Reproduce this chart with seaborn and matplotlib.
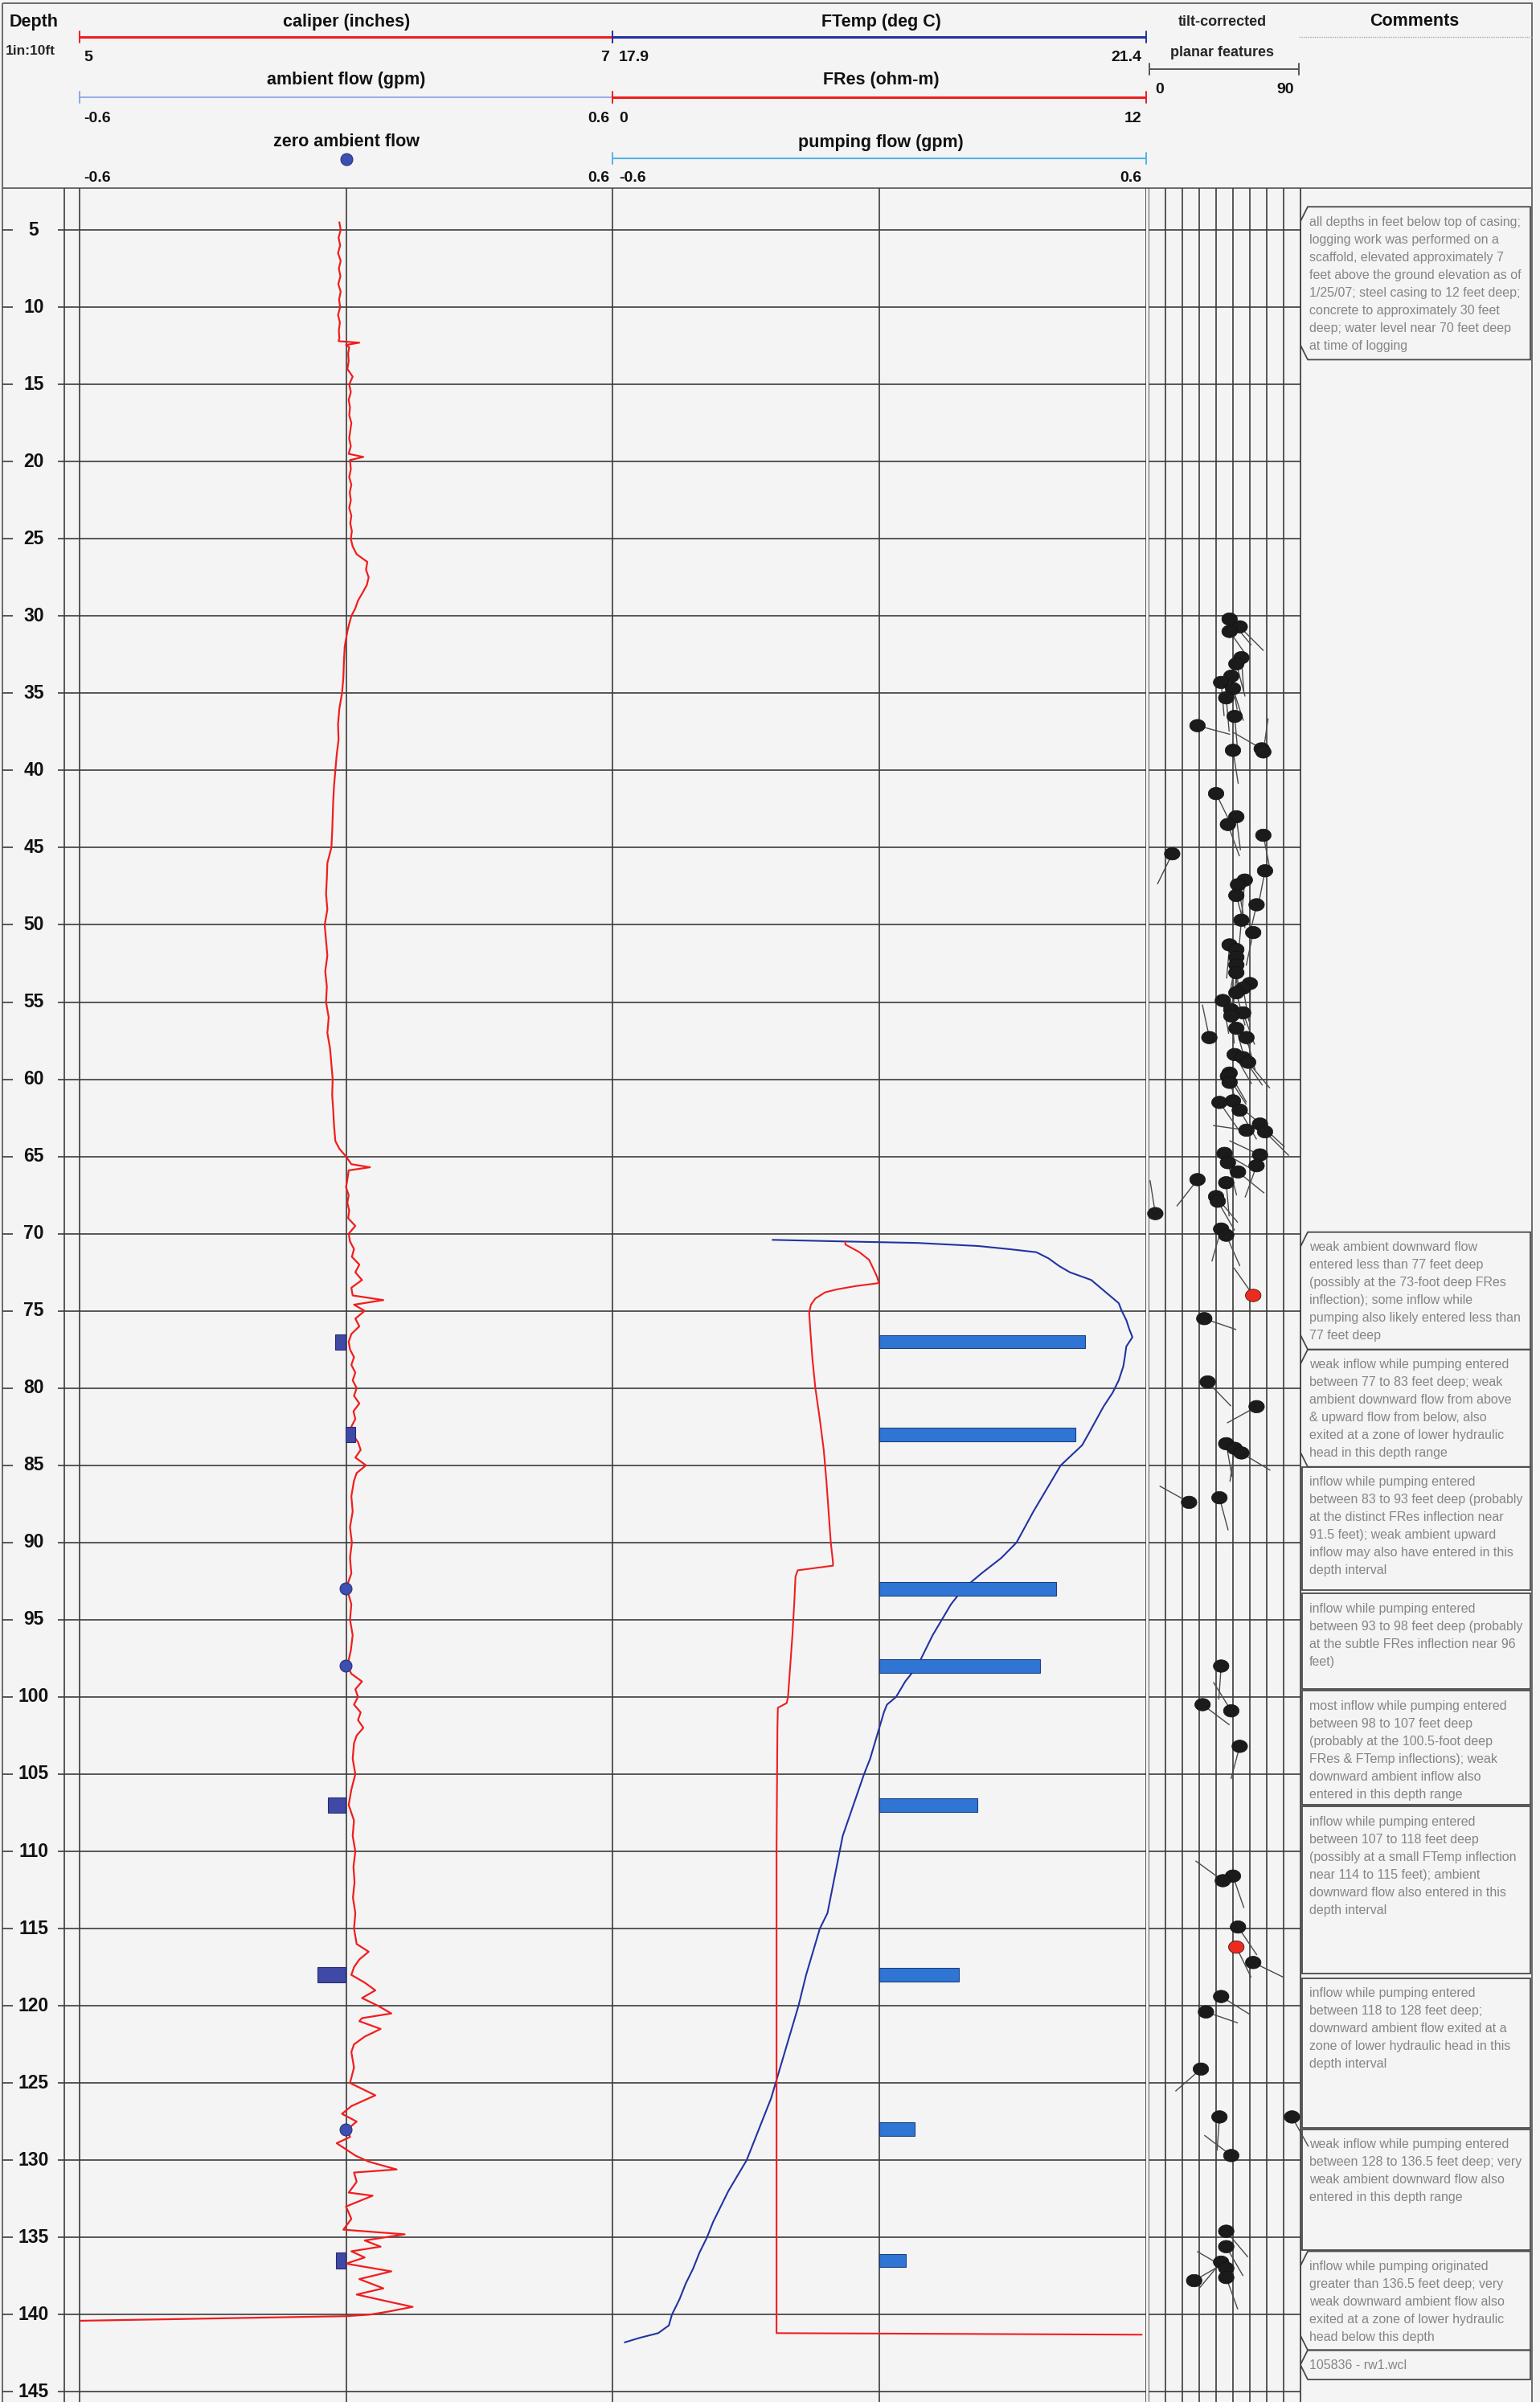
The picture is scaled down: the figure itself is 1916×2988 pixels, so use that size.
import numpy as np
import matplotlib
matplotlib.use("Agg")
import matplotlib.pyplot as plt
from matplotlib import font_manager
from matplotlib.patches import Polygon
from matplotlib.path import Path
from matplotlib.collections import LineCollection
import seaborn as sns

# ==========================================
# Data read off the log

# caliper (inches) vs depth (ft)
cal_depth = [4.5, 5, 5.5, 6, 6.5, 7, 7.5, 8, 8.5, 9, 9.5, 10, 10.5, 11, 11.5, 12, 12.2, 12.3, 12.45, 12.6,
             13, 13.5, 14, 14.5, 15, 15.5, 16, 16.5, 17, 17.5, 18, 18.5, 19, 19.5, 19.7, 19.9, 20.5, 21, 21.5,
             22, 22.5, 23, 23.5, 24, 24.5, 25, 25.5, 26, 26.5, 27, 27.5, 28, 28.5, 29, 29.5, 30, 30.5, 31,
             31.5, 32, 33, 34, 35, 36, 37, 38, 39, 40, 41, 42, 43, 44, 45, 46, 47, 48, 49, 50, 51, 52, 53,
             54, 55, 56, 57, 58, 59, 60, 61, 62, 63, 64, 64.5, 65, 65.5, 65.7, 65.9, 66.5, 67, 67.5, 68,
             68.5, 69, 69.5, 70, 70.5, 71, 71.5, 72, 72.5, 73, 73.5, 74, 74.3, 74.6, 75, 75.5, 76, 76.5, 77,
             77.5, 78, 78.5, 79, 79.5, 80, 80.5, 81, 81.5, 82, 82.5, 83, 83.5, 84, 84.5, 85, 85.5, 86, 87,
             88, 89, 90, 91, 92, 93, 93.5, 94, 95, 96, 97, 98, 98.5, 99, 99.5, 100, 100.5, 101, 101.5, 102,
             102.5, 103, 104, 105, 106, 107, 107.5, 108, 109, 110, 111, 112, 113, 114, 115, 116, 116.5, 117,
             117.5, 118, 118.5, 119, 119.5, 120, 120.5, 120.8, 121, 121.5, 122, 122.5, 123, 124, 125, 125.8,
             126.5, 127, 127.5, 128, 128.5, 128.9, 129.7, 130.1, 130.6, 130.8, 131.4, 132.1, 132.3, 133,
             133.8, 134.5, 134.8, 135.2, 135.6, 135.9, 136.3, 136.7, 137.2, 137.7, 138.3, 138.7, 139.2,
             139.5, 139.8, 140.0, 140.1, 140.4]
cal_in = [5.975, 5.98, 5.972, 5.978, 5.97, 5.98, 5.973, 5.979, 5.971, 5.98, 5.974, 5.978, 5.97, 5.977, 5.973,
          5.975, 5.972, 6.05, 6.0, 6.012, 6.008, 6.01, 6.005, 6.025, 6.012, 6.018, 6.01, 6.015, 6.012, 6.02,
          6.016, 6.012, 6.018, 6.01, 6.065, 6.015, 6.018, 6.012, 6.02, 6.014, 6.018, 6.012, 6.02, 6.016,
          6.022, 6.018, 6.025, 6.04, 6.08, 6.075, 6.085, 6.078, 6.062, 6.045, 6.035, 6.02, 6.012, 6.005,
          6.0, 5.995, 5.992, 5.99, 5.985, 5.975, 5.97, 5.972, 5.965, 5.96, 5.955, 5.952, 5.95, 5.948, 5.945,
          5.93, 5.928, 5.925, 5.93, 5.92, 5.925, 5.93, 5.922, 5.928, 5.925, 5.935, 5.93, 5.94, 5.945, 5.95,
          5.948, 5.952, 5.955, 5.96, 5.975, 6.0, 6.02, 6.09, 6.01, 6.005, 6.0, 6.01, 6.005, 6.012, 6.008,
          6.035, 6.01, 6.015, 6.03, 6.022, 6.05, 6.035, 6.06, 6.02, 6.025, 6.14, 6.03, 6.07, 6.035, 6.05,
          6.02, 6.01, 6.015, 6.03, 6.02, 6.035, 6.025, 6.04, 6.03, 6.05, 6.028, 6.035, 6.02, 6.025, 6.045,
          6.055, 6.035, 6.075, 6.04, 6.03, 6.02, 6.025, 6.015, 6.022, 6.015, 6.02, 6.0, 6.012, 6.02, 6.015,
          6.025, 6.018, 6.005, 6.02, 6.06, 6.035, 6.045, 6.03, 6.055, 6.045, 6.065, 6.04, 6.03, 6.025,
          6.035, 6.02, 6.01, 6.02, 6.03, 6.025, 6.035, 6.028, 6.032, 6.026, 6.035, 6.03, 6.04, 6.085, 6.05,
          6.03, 6.02, 6.07, 6.11, 6.06, 6.12, 6.17, 6.06, 6.05, 6.13, 6.07, 6.03, 6.02, 6.03, 6.015, 6.11,
          6.02, 5.985, 6.04, 6.005, 6.015, 5.965, 6.035, 6.086, 6.19, 6.03, 6.04, 6.01, 6.10, 6.0, 6.02,
          5.99, 6.22, 6.07, 6.13, 6.02, 6.07, 6.0, 6.17, 6.05, 6.14, 6.04, 6.17, 6.25, 6.16, 6.09, 6.0, 5.0]

# FTemp (deg C) vs depth
temp_depth = [70.4, 70.5, 70.6, 70.8, 71.0, 71.2, 71.6, 72.1, 72.5, 73.0, 73.5, 74.0, 74.5, 75.0, 75.6, 76.2,
              76.7, 77.3, 78.0, 78.6, 79.5, 80.3, 81.2, 82.1, 83.0, 83.7, 85.0, 86.5, 88.0, 90.0, 91.0, 92.0,
              93.0, 94.0, 95.0, 96.0, 97.0, 98.0, 99.0, 100.0, 100.5, 101.0, 102.0, 103.0, 104.0, 105.0,
              107.0, 109.0, 111.0, 113.0, 114.0, 115.0, 116.0, 118.0, 120.0, 122.0, 124.0, 126.0, 128.0,
              130.0, 132.0, 134.0, 135.0, 136.0, 137.0, 138.0, 139.0, 140.0, 140.7, 141.2, 141.5, 141.8]
temp_c = [18.95, 19.4, 19.9, 20.3, 20.5, 20.68, 20.76, 20.83, 20.9, 21.04, 21.1, 21.16, 21.22, 21.24, 21.27,
          21.29, 21.31, 21.27, 21.26, 21.25, 21.22, 21.18, 21.12, 21.07, 21.02, 20.98, 20.84, 20.75, 20.66,
          20.55, 20.45, 20.32, 20.2, 20.12, 20.06, 20.0, 19.95, 19.9, 19.82, 19.76, 19.7, 19.68, 19.65,
          19.62, 19.59, 19.55, 19.48, 19.41, 19.37, 19.33, 19.31, 19.26, 19.23, 19.17, 19.12, 19.06, 19.0,
          18.94, 18.86, 18.78, 18.66, 18.56, 18.52, 18.47, 18.43, 18.38, 18.34, 18.29, 18.27, 18.2, 18.08,
          17.98]

# FRes (ohm-m) vs depth
fres_depth = [70.5, 70.7, 71.2, 71.7, 72.3, 72.8, 73.2, 73.4, 73.6, 73.8, 74.2, 74.6, 75.1, 76.0, 78.0, 80.0,
              82.0, 84.0, 86.0, 88.0, 90.0, 91.3, 91.5, 91.8, 92.2, 94.0, 96.0, 98.0, 100.0, 100.4, 100.7,
              102.0, 110.0, 120.0, 130.0, 141.2, 141.3]
fres_ohm = [5.28, 5.28, 5.6, 5.82, 5.92, 6.0, 6.04, 5.5, 5.1, 4.82, 4.6, 4.5, 4.46, 4.48, 4.53, 4.6, 4.7,
            4.79, 4.85, 4.9, 4.95, 5.0, 5.0, 4.2, 4.15, 4.12, 4.08, 4.03, 3.98, 3.95, 3.75, 3.74, 3.72, 3.72,
            3.72, 3.72, 12.0]

# flow measurements (gpm)
pump_depth = [77, 83, 93, 98, 107, 118, 128, 136.5]
pump_gpm = [0.462, 0.441, 0.397, 0.362, 0.221, 0.179, 0.079, 0.059]
amb_depth = [77, 83, 107, 118, 136.5]
amb_gpm = [-0.025, 0.02, -0.041, -0.064, -0.022]
zero_amb_depth = [93, 98, 128]

# tilt-corrected planar features: depth, dip (deg), dip azimuth (deg)
tad_depth = [30.2, 30.7, 31.0, 32.7, 33.1, 33.9, 34.3, 34.7, 35.3, 36.5, 37.1, 38.6, 38.8, 38.7, 41.5, 43.0,
             43.5, 44.2, 45.4, 46.5, 47.1, 47.4, 48.1, 48.7, 49.7, 50.5, 51.3, 51.6, 52.1, 52.6, 53.1, 53.8,
             54.1, 54.4, 54.9, 55.5, 55.7, 55.9, 56.7, 57.3, 57.3, 58.4, 58.6, 58.9, 59.6, 59.8, 60.2, 61.4,
             61.5, 62.0, 62.9, 63.3, 63.4, 64.8, 64.9, 65.4, 65.6, 66.0, 66.5, 66.7, 67.6, 67.9, 68.7, 69.7,
             70.1, 74.0, 75.5, 79.6, 81.2, 83.6, 83.9, 84.2, 87.1, 87.4, 98.0, 100.5, 100.9, 103.2, 111.6,
             111.9, 114.9, 116.2, 117.2, 119.4, 120.4, 124.1, 127.2, 127.2, 129.7, 134.6, 135.6, 136.6,
             137.0, 137.6, 137.8]
tad_dip = [48, 54, 48, 55, 52, 49, 43, 50, 46, 51, 29, 67, 68, 50, 40, 52, 47, 68, 14, 69, 57, 53, 52, 64, 55,
           62, 48, 52, 52, 52, 52, 60, 56, 52, 44, 49, 56, 49, 52, 36, 58, 51, 56, 59, 48, 47, 48, 50, 42, 54,
           66, 58, 69, 45, 66, 47, 64, 53, 29, 46, 40, 41, 4, 43, 46, 62, 33, 35, 64, 46, 51, 55, 42, 24, 43,
           32, 49, 54, 50, 44, 53, 52, 62, 43, 34, 31, 42, 85, 49, 46, 46, 43, 46, 46, 27]
tad_azi = [140, 135, 145, 176, 165, 170, 175, 162, 175, 175, 105, 300, 8, 171, 154, 173, 160, 169, 206, 191,
           185, 170, 165, 193, 185, 192, 185, 180, 190, 175, 185, 180, 170, 165, 170, 175, 160, 150, 165, 348,
           165, 150, 145, 140, 150, 147, 160, 130, 145, 150, 133, 278, 135, 120, 295, 165, 200, 129, 218, 175,
           140, 150, 351, 196, 156, 325, 109, 136, 241, 170, 188, 121, 165, 299, 184, 127, 328, 195, 161,
           306, 146, 154, 116, 122, 109, 229, 184, 151, 307, 140, 150, 220, 300, 160, 60]
tad_kind = ["plain"] * len(tad_depth)
tad_kind[tad_depth.index(74.0)] = "flow"
tad_kind[tad_depth.index(116.2)] = "flow"

# comments column: box top / bottom depth and text lines
box_top = [3.5, 69.9, 77.5, 85.1, 93.3, 99.6, 107.1, 118.2, 128.0, 135.9, 142.3]
box_bot = [13.4, 77.5, 85.1, 93.1, 99.5, 107.0, 117.9, 127.9, 135.8, 142.3, 144.2]
box_notch = [True, True, True, False, False, False, False, False, False, True, True]
comments = [
    ["all depths in feet below top of casing;", "logging work was performed on a",
     "scaffold, elevated approximately 7", "feet above the ground elevation as of",
     "1/25/07; steel casing to 12 feet deep;", "concrete to approximately 30 feet",
     "deep; water level near 70 feet deep", "at time of logging"],
    ["weak ambient downward flow", "entered less than 77 feet deep",
     "(possibly at the 73-foot deep FRes", "inflection); some inflow while",
     "pumping also likely entered less than", "77 feet deep"],
    ["weak inflow while pumping entered", "between 77 to 83 feet deep; weak",
     "ambient downward flow from above", "& upward flow from below, also",
     "exited at a zone of lower hydraulic", "head in this depth range"],
    ["inflow while pumping entered", "between 83 to 93 feet deep (probably",
     "at the distinct FRes inflection near", "91.5 feet); weak ambient upward",
     "inflow may also have entered in this", "depth interval"],
    ["inflow while pumping entered", "between 93 to 98 feet deep (probably",
     "at the subtle FRes inflection near 96", "feet)"],
    ["most inflow while pumping entered", "between 98 to 107 feet deep",
     "(probably at the 100.5-foot deep", "FRes & FTemp inflections); weak",
     "downward ambient inflow also", "entered in this depth range"],
    ["inflow while pumping entered", "between 107 to 118 feet deep",
     "(possibly at a small FTemp inflection", "near 114 to 115 feet); ambient",
     "downward flow also entered in this", "depth interval"],
    ["inflow while pumping entered", "between 118 to 128 feet deep;",
     "downward ambient flow exited at a", "zone of lower hydraulic head in this",
     "depth interval"],
    ["weak inflow while pumping entered", "between 128 to 136.5 feet deep; very",
     "weak ambient downward flow also", "entered in this depth range"],
    ["inflow while pumping originated", "greater than 136.5 feet deep; very",
     "weak downward ambient flow also", "exited at a zone of lower hydraulic",
     "head below this depth"],
    ["105836 - rw1.wcl"],
]

depth_ticks = list(range(5, 150, 5))

# ==========================================
# Layout (pixels of the 1916 x 2988 sheet)

W, H = 1916, 2988
TOP = 234                      # bottom of header
DEPTH_TOP, DEPTH_BOT = 2.29, 145.66
PX_PER_FT = (H - TOP) / (DEPTH_BOT - DEPTH_TOP)
TADPOLE_X = (1429, 1618)
PX_PER_DIP = (TADPOLE_X[1] - TADPOLE_X[0]) / 90
TAIL_PX = 42

BG = "#f4f4f4"
GRID = "#3c3c3c"
RED = "#f21d1d"
NAVY = "#2233a3"

sns.set_theme(style="white")
names = {f.name for f in font_manager.fontManager.ttflist}
NARROW = "Liberation Sans Narrow" if "Liberation Sans Narrow" in names else "Liberation Sans"
plt.rcParams["font.family"] = [NARROW, "DejaVu Sans"]

fig = plt.figure(figsize=(W / 100, H / 100), dpi=100, facecolor=BG)


def place(x0, x1, y0=TOP, y1=H):
    ax = fig.add_axes([x0 / W, 1 - y1 / H, (x1 - x0) / W, (y1 - y0) / H])
    return ax


def track(ax, xlim):
    ax.set_xlim(*xlim)
    ax.set_ylim(DEPTH_BOT, DEPTH_TOP)
    ax.set_axis_off()
    ax.patch.set_visible(False)


# background / header axes in pixel coordinates
bg = fig.add_axes([0, 0, 1, 1])
bg.set_xlim(0, W)
bg.set_ylim(H, 0)
bg.set_axis_off()
bg.add_patch(plt.Rectangle((3, 4), 1903, H, fill=False, ec="#6a6a6a", lw=1.4))
bg.plot([3, 1906], [TOP, TOP], color="#6a6a6a", lw=1.4)

hdr = dict(fontweight="bold", fontsize=15.5, ha="center", va="center", color="#111")
num = dict(fontweight="bold", fontsize=14, va="center", color="#111")


def scale_bar(x0, x1, y, color, lw=2.2):
    bg.plot([x0, x1], [y, y], color=color, lw=lw, solid_capstyle="butt")
    bg.plot([x0, x0], [y - 7, y + 7], color=color, lw=1.4)
    bg.plot([x1, x1], [y - 7, y + 7], color=color, lw=1.4)


bg.text(42, 27, "Depth", **hdr)
bg.text(38, 64, "1in:10ft", fontweight="bold", fontsize=12.5, ha="center", va="center")

bg.text(431, 27, "caliper (inches)", **hdr)
scale_bar(99, 762, 46, RED)
bg.text(104, 71, "5", ha="left", **num)
bg.text(758, 71, "7", ha="right", **num)
bg.text(431, 100, "ambient flow (gpm)", **hdr)
scale_bar(99, 762, 121, "#8ea6e6", lw=1.3)
bg.text(104, 147, "-0.6", ha="left", **num)
bg.text(758, 147, "0.6", ha="right", **num)
bg.text(431, 177, "zero ambient flow", **hdr)
bg.scatter([431], [198], s=115, color="#3d4fb0", edgecolor="#27337a", lw=0.8, zorder=5)
bg.text(104, 221, "-0.6", ha="left", **num)
bg.text(758, 221, "0.6", ha="right", **num)

bg.text(1096, 27, "FTemp (deg C)", **hdr)
scale_bar(762, 1426, 46, NAVY)
bg.text(770, 71, "17.9", ha="left", **num)
bg.text(1420, 71, "21.4", ha="right", **num)
bg.text(1096, 100, "FRes (ohm-m)", **hdr)
scale_bar(762, 1426, 121, RED)
bg.text(770, 147, "0", ha="left", **num)
bg.text(1420, 147, "12", ha="right", **num)
bg.text(1096, 177, "pumping flow (gpm)", **hdr)
scale_bar(762, 1426, 197, "#54b3e6", lw=1.5)
bg.text(770, 221, "-0.6", ha="left", **num)
bg.text(1420, 221, "0.6", ha="right", **num)

bg.text(1521, 28, "tilt-corrected", fontweight="bold", fontsize=13, ha="center", va="center")
bg.text(1521, 66, "planar features", fontweight="bold", fontsize=13, ha="center", va="center")
scale_bar(1430, 1616, 86, "#555555", lw=1.4)
bg.text(1437, 112, "0", ha="left", **num)
bg.text(1610, 112, "90", ha="right", **num)

bg.text(1760, 27, "Comments", **hdr)
bg.plot([1616, 1906], [46, 46], color="#aaaaaa", lw=1.0, ls=(0, (1, 1)))

# ==========================================
# depth column
axd = place(3, 99)
track(axd, (3, 99))
axd.hlines(depth_ticks, 3, 16, color=GRID, lw=1.2)
axd.hlines(depth_ticks, 72, 99, color=GRID, lw=1.2)
axd.axvline(80, color=GRID, lw=1.2)
axd.axvline(99, color=GRID, lw=1.2)
for d in depth_ticks:
    axd.text(42, d, str(d), ha="center", va="center", fontsize=16.5, fontweight="bold", color="#111")

# ==========================================
# track 1: caliper + ambient flow
ax1 = place(99, 762)
ax1.hlines(depth_ticks, 5, 7, color=GRID, lw=1.2, zorder=1)
for x in (5, 6, 7):
    ax1.axvline(x, color=GRID, lw=1.2, zorder=1)
sns.lineplot(x=cal_in, y=cal_depth, orient="y", sort=False, estimator=None,
             color=RED, lw=1.6, ax=ax1, zorder=3)
track(ax1, (5, 7))

ax1b = ax1.twiny()
ax1b.barh(amb_depth, amb_gpm, height=1.0, color="#4049a6", edgecolor="#262c72", lw=0.8, zorder=4)
sns.scatterplot(x=[0] * len(zero_amb_depth), y=zero_amb_depth, s=115, color="#3d4fb0",
                edgecolor="#27337a", linewidth=0.8, ax=ax1b, zorder=5, legend=False)
track(ax1b, (-0.6, 0.6))

# ==========================================
# track 2: FTemp, FRes, pumping flow
ax2 = place(762, 1426)
ax2.hlines(depth_ticks, 17.9, 21.4, color=GRID, lw=1.2, zorder=1)
for x in (17.9, 19.65, 21.4):
    ax2.axvline(x, color=GRID, lw=1.2, zorder=1)
sns.lineplot(x=temp_c, y=temp_depth, orient="y", sort=False, estimator=None,
             color=NAVY, lw=1.5, ax=ax2, zorder=4)
track(ax2, (17.9, 21.4))

ax2b = ax2.twiny()
sns.lineplot(x=fres_ohm, y=fres_depth, orient="y", sort=False, estimator=None,
             color=RED, lw=1.5, ax=ax2b, zorder=4)
track(ax2b, (0, 12.1))

ax2c = ax2.twiny()
sns.barplot(x=pump_gpm, y=pump_depth, orient="h", native_scale=True, width=0.87 / 5,
            color="#2f76d4", saturation=1, edgecolor="#1d3f7f", linewidth=0.8,
            errorbar=None, ax=ax2c, zorder=3)
track(ax2c, (-0.6, 0.6))

# ==========================================
# track 3: tadpoles
ax3 = place(TADPOLE_X[0], TADPOLE_X[1])
ax3.hlines(depth_ticks, 0, 90, color=GRID, lw=1.2, zorder=1)
for x in range(0, 91, 10):
    ax3.axvline(x, color=GRID, lw=1.2, zorder=1)
az = np.radians(tad_azi)
x0 = np.array(tad_dip, dtype=float)
y0 = np.array(tad_depth, dtype=float)
x1 = x0 + TAIL_PX * np.sin(az) / PX_PER_DIP
y1 = y0 - TAIL_PX * np.cos(az) / PX_PER_FT
tails = [[(a, b), (c, d)] for a, b, c, d in zip(x0, y0, x1, y1)]
ax3.add_collection(LineCollection(tails, colors="#4a4a4a", linewidths=1.0, zorder=2))
t = np.linspace(0, 2 * np.pi, 48)
ellipse = Path(np.column_stack([np.cos(t), 0.8 * np.sin(t)]), closed=True)
sns.scatterplot(x=tad_dip, y=tad_depth, hue=tad_kind, palette={"plain": "#1b1b1b", "flow": "#ee2a1e"},
                marker=ellipse, s=195, edgecolor="#111111", linewidth=0.5, legend=False, ax=ax3, zorder=3)
track(ax3, (0, 90))
for c in ax3.collections:
    c.set_clip_on(False)

# ==========================================
# track 4: comments
ax4 = place(1618, 1906)
ax4.axvline(0, color=GRID, lw=1.3)
track(ax4, (0, 288))
notch = 18 / PX_PER_FT
for top, bot, nt, lines in zip(box_top, box_bot, box_notch, comments):
    if nt:
        pts = [(9, top), (286, top), (286, bot), (9, bot), (0, bot - notch), (0, top + notch)]
    else:
        pts = [(2, top), (286, top), (286, bot), (2, bot)]
    ax4.add_patch(Polygon(pts, closed=True, fill=False, ec="#4a4a4a", lw=1.3))
    for i, line in enumerate(lines):
        ax4.text(11, top + (19 + 22 * i) / PX_PER_FT, line, ha="left", va="center",
                 fontsize=11.5, color="#858585")

fig.savefig("out.png", dpi=100, facecolor=BG)
